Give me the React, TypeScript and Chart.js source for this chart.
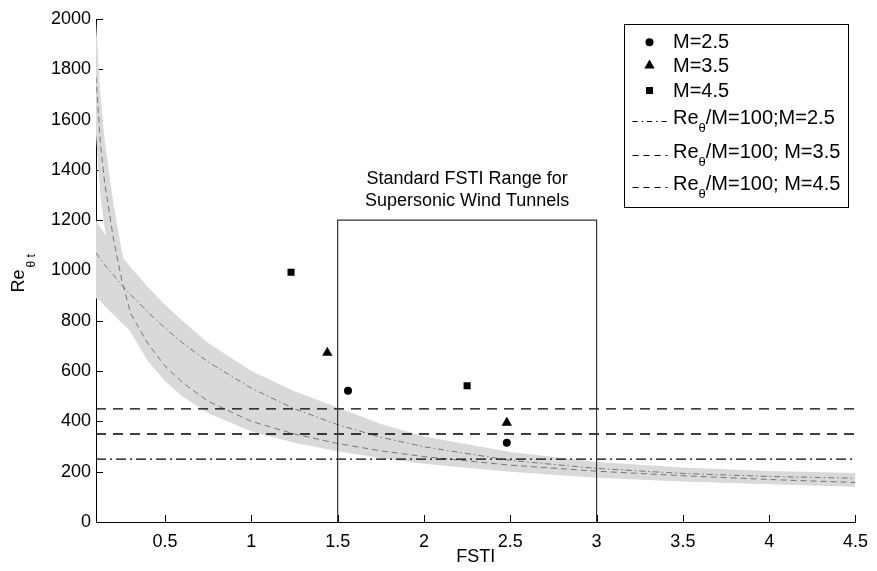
import React, { useEffect, useRef } from 'react';
import { Chart, registerables } from 'chart.js';

Chart.register(...registerables);

// ---- data ----
const xGrid = [0.1, 0.125, 0.15, 0.2, 0.25, 0.3, 0.4, 0.5, 0.6, 0.75, 1.0, 1.25, 1.5, 1.75, 2.0, 2.5, 3.0, 3.5, 4.0, 4.5];

// steep correlation (gray dashed) and its band
const steepMid = [1770, 1510, 1350, 1130, 960, 830, 710, 620, 555, 480, 400, 350, 312, 283, 260, 226, 202, 184, 169, 157];
const steepUpper = [1990, 1700, 1520, 1270, 1075, 930, 795, 695, 620, 540, 450, 392, 350, 317, 291, 253, 226, 206, 190, 176];
const steepLower = [1540, 1300, 1170, 1000, 860, 755, 640, 560, 500, 432, 360, 315, 281, 253, 232, 200, 176, 161, 150, 140];

// flatter correlation (gray dash-dot) and its band
const flatMid = [1070, 1046, 1023, 983, 941, 905, 835, 771, 713, 636, 532, 450, 387, 337, 299, 245, 213, 193, 181, 174];
const flatUpper = [1200, 1172, 1146, 1100, 1055, 1013, 935, 864, 800, 712, 600, 520, 455, 390, 340, 278, 239, 217, 203, 195];
const flatLower = [890, 879, 859, 826, 790, 760, 701, 648, 599, 534, 447, 378, 325, 283, 251, 206, 179, 162, 152, 146];

// measured points
const m25X = [1.56, 2.48];
const m25Y = [522, 315];
const m35X = [1.44, 2.48];
const m35Y = [673, 395];
const m45X = [1.23, 2.25];
const m45Y = [993, 542];

// Re_theta / M = 100 levels
const refLevels = [250, 350, 450];
const refLabels = ['/M=100;M=2.5', '/M=100; M=3.5', '/M=100; M=4.5'];
const markerLabels = ['M=2.5', 'M=3.5', 'M=4.5'];

// standard FSTI range box
const rangeX = [1.5, 3.0];
const rangeTop = 1200;
const rangeText = ['Standard FSTI Range for', 'Supersonic Wind Tunnels'];
const rangeTextX = 2.25;

const xMin = 0.1;
const xMax = 4.5;
const yMin = 0;
const yMax = 2000;
const xTickValues = [0.5, 1, 1.5, 2, 2.5, 3, 3.5, 4, 4.5];
const yTickValues = [0, 200, 400, 600, 800, 1000, 1200, 1400, 1600, 1800, 2000];

const FONT = '"Liberation Sans", Arial, Helvetica, sans-serif';
const FS = 18;
const LFS = 20;
const BAND = '#d9d9d9';
const CURVE = '#777777';

const dashStyles = [[10, 4, 2, 4], [10, 7], [10, 7]];

function drawMarker(ctx: CanvasRenderingContext2D, kind: string, x: number, y: number) {
  ctx.beginPath();
  if (kind === 'circle') {
    ctx.arc(x, y, 4, 0, Math.PI * 2);
  } else if (kind === 'triangle') {
    const r = 6;
    ctx.moveTo(x, y - r);
    ctx.lineTo(x + r * Math.sin((2 * Math.PI) / 3), y - r * Math.cos((2 * Math.PI) / 3));
    ctx.lineTo(x + r * Math.sin((4 * Math.PI) / 3), y - r * Math.cos((4 * Math.PI) / 3));
    ctx.closePath();
  } else {
    ctx.rect(x - 3.5, y - 3.5, 7, 7);
  }
  ctx.fill();
}

const customPlugin = {
  id: 'customDraw',
  beforeDatasetsDraw(chart: any) {
    const { ctx, chartArea: a, scales } = chart;
    const x = scales.x;
    const y = scales.y;
    ctx.save();
    ctx.strokeStyle = '#000';
    ctx.lineWidth = 1;
    ctx.beginPath();
    for (const v of xTickValues) {
      const px = Math.round(x.getPixelForValue(v)) + 0.5;
      ctx.moveTo(px, a.bottom);
      ctx.lineTo(px, a.bottom - 7);
    }
    for (const v of yTickValues) {
      const py = Math.round(y.getPixelForValue(v)) + 0.5;
      ctx.moveTo(a.left, py);
      ctx.lineTo(a.left + 7, py);
    }
    ctx.stroke();
    ctx.restore();
  },
  afterDatasetsDraw(chart: any) {
    const { ctx, chartArea: a, scales } = chart;
    const x = scales.x;
    const y = scales.y;
    ctx.save();
    ctx.fillStyle = '#000';
    ctx.font = `${FS}px ${FONT}`;

    // range annotation text
    ctx.textAlign = 'center';
    ctx.textBaseline = 'alphabetic';
    const tx = x.getPixelForValue(rangeTextX);
    const ty = y.getPixelForValue(rangeTop);
    ctx.fillText(rangeText[0], tx, ty - 36);
    ctx.fillText(rangeText[1], tx, ty - 14);

    // x title
    ctx.fillText('FSTI', (a.left + a.right) / 2, 562);

    // y title: Re_{theta t}
    ctx.save();
    ctx.translate(24, (a.top + a.bottom) / 2 + 22);
    ctx.rotate(-Math.PI / 2);
    ctx.textAlign = 'left';
    ctx.fillText('Re', 0, 0);
    const reW = ctx.measureText('Re').width;
    ctx.font = `12px ${FONT}`;
    ctx.fillText('\u03b8 t', reW + 2, 11);
    ctx.restore();

    // legend
    const bx = Math.round(a.right - 231) + 0.5;
    const by = Math.round(a.top + 5) + 0.5;
    const bw = 224;
    const bh = 183;
    ctx.fillStyle = '#fff';
    ctx.fillRect(bx, by, bw, bh);
    ctx.strokeStyle = '#000';
    ctx.lineWidth = 1;
    ctx.strokeRect(bx, by, bw, bh);

    ctx.fillStyle = '#000';
    ctx.textAlign = 'left';
    ctx.textBaseline = 'alphabetic';
    const markerKinds = ['circle', 'triangle', 'rect'];
    const mRowsMarker = [17.7, 41, 66];
    const mRowsText = [23.8, 47.5, 72.5];
    for (let i = 0; i < 3; i++) {
      drawMarker(ctx, markerKinds[i], bx + 25, by + mRowsMarker[i]);
      ctx.font = `${LFS}px ${FONT}`;
      ctx.fillText(markerLabels[i], bx + 48.5, by + mRowsText[i]);
    }
    const lRowsLine = [96, 130, 162.5];
    const lRowsText = [99.8, 133.2, 165.5];
    for (let i = 0; i < 3; i++) {
      ctx.save();
      ctx.strokeStyle = '#000';
      ctx.setLineDash(i === 0 ? [5, 4, 1.5, 4] : [6, 5]);
      ctx.beginPath();
      ctx.moveTo(bx + 8, Math.round(by + lRowsLine[i]) + 0.5);
      ctx.lineTo(bx + 43, Math.round(by + lRowsLine[i]) + 0.5);
      ctx.stroke();
      ctx.restore();
      const tx0 = bx + 48.5;
      const ty0 = by + lRowsText[i];
      ctx.font = `${LFS}px ${FONT}`;
      ctx.fillText('Re', tx0, ty0);
      const w1 = ctx.measureText('Re').width;
      ctx.font = `13px ${FONT}`;
      ctx.fillText('\u03b8', tx0 + w1, ty0 + 8);
      const w2 = ctx.measureText('\u03b8').width;
      ctx.font = `${LFS}px ${FONT}`;
      ctx.fillText(refLabels[i], tx0 + w1 + w2, ty0);
    }
    ctx.restore();
  },
};

function pts(xs: number[], ys: number[]) {
  return xs.map((v, i) => ({ x: v, y: ys[i] }));
}

export default function App() {
  const ref = useRef<HTMLCanvasElement>(null);
  useEffect(() => {
    const canvas = ref.current;
    if (!canvas) return;

    const hidden = { borderWidth: 0, pointRadius: 0, borderColor: 'rgba(0,0,0,0)', showLine: true };

    const datasets: any[] = [
      { label: 'steepLower', data: pts(xGrid, steepLower), ...hidden, fill: false, order: 20 },
      { label: 'steepUpper', data: pts(xGrid, steepUpper), ...hidden, fill: 0, backgroundColor: BAND, order: 19 },
      { label: 'flatLower', data: pts(xGrid, flatLower), ...hidden, fill: false, order: 18 },
      { label: 'flatUpper', data: pts(xGrid, flatUpper), ...hidden, fill: 2, backgroundColor: BAND, order: 17 },
      { label: 'steepMid', data: pts(xGrid, steepMid), borderColor: CURVE, borderWidth: 1, borderDash: [6, 4], pointRadius: 0, showLine: true, fill: false, order: 10 },
      { label: 'flatMid', data: pts(xGrid, flatMid), borderColor: CURVE, borderWidth: 1, borderDash: [6, 3, 1.5, 3], pointRadius: 0, showLine: true, fill: false, order: 10 },
    ];
    refLevels.forEach((lv, i) => {
      datasets.push({
        label: 'ref' + i,
        data: [{ x: xMin, y: lv }, { x: xMax, y: lv }],
        borderColor: '#000',
        borderWidth: 1.4,
        borderDash: dashStyles[i],
        pointRadius: 0,
        showLine: true,
        fill: false,
        order: 6,
      });
    });
    datasets.push({
      label: 'range',
      data: [
        { x: rangeX[0], y: yMin },
        { x: rangeX[0], y: rangeTop },
        { x: rangeX[1], y: rangeTop },
        { x: rangeX[1], y: yMin },
      ],
      borderColor: '#333',
      borderWidth: 1.2,
      pointRadius: 0,
      showLine: true,
      fill: false,
      order: 5,
    });
    const markerSets = [
      { xs: m25X, ys: m25Y, style: 'circle', r: 4 },
      { xs: m35X, ys: m35Y, style: 'triangle', r: 6 },
      { xs: m45X, ys: m45Y, style: 'rect', r: 5 },
    ];
    markerSets.forEach((m, i) => {
      datasets.push({
        label: markerLabels[i],
        data: pts(m.xs, m.ys),
        showLine: false,
        pointStyle: m.style,
        pointRadius: m.r,
        pointBackgroundColor: '#000',
        pointBorderColor: '#000',
        pointBorderWidth: 0,
        borderWidth: 0,
        fill: false,
        order: 1,
      });
    });

    const tickFont = { family: FONT, size: FS };

    const chart = new Chart(canvas, {
      type: 'line',
      data: { datasets },
      options: {
        animation: false,
        responsive: false,
        devicePixelRatio: 1,
        parsing: false,
        normalized: true,
        layout: { padding: { top: 19, right: 18, bottom: 0, left: 0 } },
        plugins: {
          legend: { display: false },
          tooltip: { enabled: false },
          title: { display: false },
        },
        scales: {
          x: {
            type: 'linear',
            min: xMin,
            max: xMax,
            grid: { display: false, drawTicks: false },
            border: { display: true, color: '#000', width: 1 },
            ticks: {
              color: '#000',
              font: tickFont,
              padding: 9,
              autoSkip: false,
              maxRotation: 0,
              callback: (v: any) => String(v),
            },
            afterBuildTicks: (s: any) => {
              s.ticks = xTickValues.map((v) => ({ value: v }));
            },
            afterFit: (s: any) => {
              s.height = 49;
            },
          },
          y: {
            type: 'linear',
            min: yMin,
            max: yMax,
            grid: { display: false, drawTicks: false },
            border: { display: true, color: '#000', width: 1 },
            ticks: {
              color: '#000',
              font: tickFont,
              padding: 5,
              autoSkip: false,
              callback: (v: any) => String(v),
            },
            afterBuildTicks: (s: any) => {
              s.ticks = yTickValues.map((v) => ({ value: v }));
            },
            afterFit: (s: any) => {
              s.width = 96;
            },
          },
        },
      } as any,
      plugins: [customPlugin],
    });
    return () => chart.destroy();
  }, []);

  return (
    <div style={{ position: 'fixed', left: 0, top: 0, width: 877, height: 571, background: '#fff' }}>
      <canvas ref={ref} width={877} height={571} style={{ display: 'block', width: 877, height: 571 }} />
    </div>
  );
}
